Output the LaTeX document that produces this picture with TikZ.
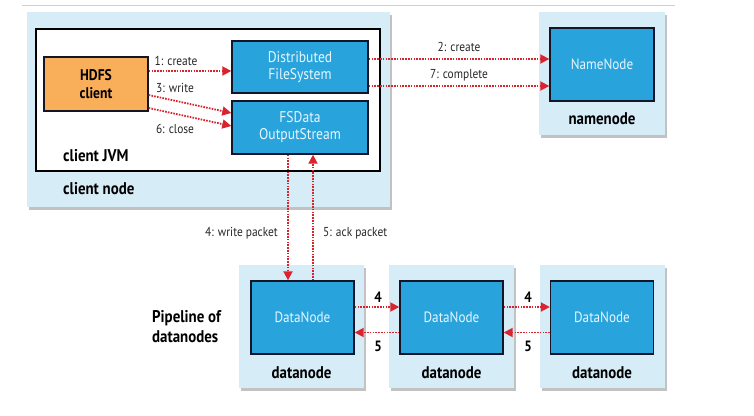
\documentclass[tikz,border=0pt]{standalone}
\usepackage{fontspec}
\setmainfont{PT Sans}[FakeStretch=0.88]
\usetikzlibrary{arrows.meta,shadows,calc}
\definecolor{outerblue}{RGB}{214,236,247}
\definecolor{innerblue}{RGB}{41,163,219}
\definecolor{hdfsorange}{RGB}{249,174,90}
\definecolor{arrowred}{RGB}{217,35,46}
\definecolor{boxtext}{RGB}{230,247,255}
\definecolor{topline}{RGB}{200,210,222}
\definecolor{navy}{RGB}{20,22,40}
\begin{document}
\begin{tikzpicture}[x=1bp,y=-1bp,
  outerbox/.style={fill=outerblue,draw=none,minimum width=#1,inner sep=0pt,
    drop shadow={shadow xshift=2bp,shadow yshift=-2.5bp,fill=black!40,opacity=0.6}},
  innerbox/.style={fill=innerblue,draw=navy,line width=1.4bp,inner sep=0pt,
    text=boxtext,align=center,font=\fontsize{15.5}{17}\selectfont},
  boldlbl/.style={font=\bfseries\fontsize{17}{20}\selectfont,inner sep=0pt,text=black},
  smalllbl/.style={font=\fontsize{13}{14}\selectfont,inner sep=0pt,text=black!85},
  arr/.style={draw=arrowred,line width=1.8bp,dash pattern=on 1.6bp off 1.2bp,
    -{Triangle[length=9bp,width=9bp,fill=arrowred]}},
]
\useasboundingbox (0,0) rectangle (754,415);
\draw[topline,line width=1bp] (22,5) -- (675,5);

% client node
\node[outerbox=363bp,minimum height=195bp] (cnode) at (208.5,109.5) {};
\node[fill=white,draw=black,line width=1.4bp,minimum width=344bp,minimum height=142bp,inner sep=0pt] (jvm) at (208,100) {};
\node[fill=hdfsorange,draw=navy,line width=1.4bp,minimum width=104bp,minimum height=54bp,inner sep=0pt,
  align=center,font=\bfseries\fontsize{15.5}{18}\selectfont] (hdfs) at (96,84) {HDFS\\client};
\node[innerbox,minimum width=136bp,minimum height=52bp] (dfs) at (300,67) {Distributed\\FileSystem};
\node[innerbox,minimum width=136bp,minimum height=53bp] (fsd) at (300,127.5) {FSData\\OutputStream};
\node[boldlbl,anchor=west] (jvmlbl) at (63,156) {client JVM};
\node[boldlbl,anchor=west] (cnlbl) at (63,189) {client node};

% namenode
\node[outerbox=126bp,minimum height=123bp] (nnode) at (602,73.5) {};
\node[innerbox,minimum width=104bp,minimum height=73bp,font=\fontsize{15}{17}\selectfont] (nn) at (602,64.5) {NameNode};
\node[boldlbl] (nnlbl) at (602,119) {namenode};

% datanodes
\foreach \i/\cx/\ix in {1/301.5/302.5,2/451.5/451.5,3/602/602}{
  \node[outerbox=125bp,minimum height=123bp] (dnode\i) at (\cx,326.5) {};
  \node[innerbox,minimum width=103bp,minimum height=73bp,font=\fontsize{15}{17}\selectfont] (dn\i) at (\ix,317.5) {DataNode};
  \node[boldlbl] (dnlbl\i) at (\cx,373) {datanode};
}
\node[boldlbl,align=left,anchor=west] (pipe) at (152,327) {Pipeline of\\datanodes};

% client arrows
\draw[arr] ([yshift=13bp]hdfs.east) -- ([yshift=13bp]hdfs.east -| dfs.west);
\draw[arr] ([yshift=-11bp]hdfs.east) -- ([yshift=14.5bp]fsd.west);
\draw[arr] ([yshift=-24bp]hdfs.east) -- ([yshift=1.5bp]fsd.west);
\node[smalllbl] (l1) at (176,61) {1: create};
\node[smalllbl] (l3) at (175,88) {3: write};
\node[smalllbl] (l6) at (175,129) {6: close};

% namenode arrows
\draw[arr] ([yshift=8bp]dfs.east) -- ([yshift=8bp]dfs.east -| nn.west);
\draw[arr] ([yshift=-19bp]dfs.east) -- ([yshift=-19bp]dfs.east -| nn.west);
\node[smalllbl] (l2) at (459,47) {2: create};
\node[smalllbl] (l7) at (459,75) {7: complete};

% packet arrows
\coordinate (wp) at ([xshift=-12bp]fsd.south);
\coordinate (ap) at ([xshift=13bp]fsd.south);
\draw[arr] (wp) -- (wp |- dn1.north);
\draw[arr] (ap |- dn1.north) -- (ap);
\node[smalllbl,anchor=east] (l4) at (278,233) {4: write packet};
\node[smalllbl,anchor=west] (l5) at (323,233) {5: ack packet};

% pipeline arrows
\draw[arr] ([yshift=10.5bp]dn1.east) -- ([yshift=10.5bp]dn1.east -| dn2.west);
\draw[arr] ([yshift=-15bp]dn2.west) -- ([yshift=-15bp]dn2.west -| dn1.east);
\draw[arr] ([yshift=10.5bp]dn2.east) -- ([yshift=10.5bp]dn2.east -| dn3.west);
\draw[arr] ([yshift=-15bp]dn3.west) -- ([yshift=-15bp]dn3.west -| dn2.east);
\node[boldlbl,font=\bfseries\fontsize{15}{16}\selectfont] (n4a) at (378,297) {4};
\node[boldlbl,font=\bfseries\fontsize{15}{16}\selectfont] (n5a) at (378,346) {5};
\node[boldlbl,font=\bfseries\fontsize{15}{16}\selectfont] (n4b) at (528,297) {4};
\node[boldlbl,font=\bfseries\fontsize{15}{16}\selectfont] (n5b) at (528,346) {5};
\end{tikzpicture}
\end{document}
